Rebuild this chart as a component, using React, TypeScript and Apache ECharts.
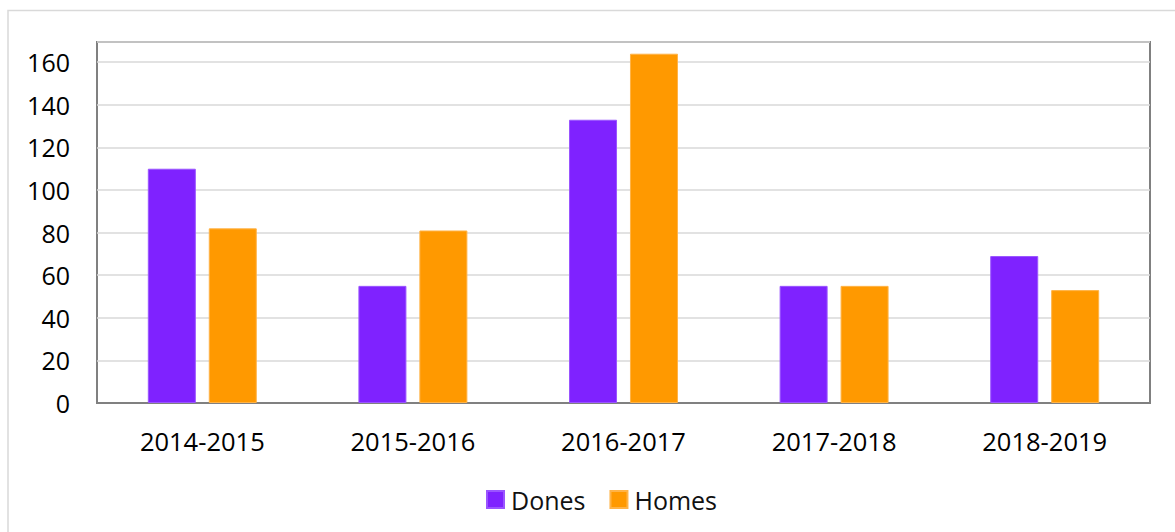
import React, { useEffect, useRef } from "react";
import * as echarts from "echarts";

const categories = ["2014-2015", "2015-2016", "2016-2017", "2017-2018", "2018-2019"];
const dones = [110, 55, 133, 55, 69];
const homes = [82, 81, 164, 55, 53];
const seriesNames = ["Dones", "Homes"];
const yMax = 169.5;
const yInterval = 20;

const FONT = "'Open Sans', 'Noto Sans', sans-serif";

export default function App() {
  const ref = useRef<HTMLDivElement>(null);
  useEffect(() => {
    if (!ref.current) return;
    const chart = echarts.init(ref.current, null, { renderer: "svg" });
    chart.setOption({
      animation: false,
      backgroundColor: "#ffffff",
      textStyle: { fontFamily: FONT },
      graphic: [
        {
          type: "rect",
          shape: { x: 8, y: 10.5, width: 1300, height: 700 },
          style: { fill: "none", stroke: "#d9d9d9", lineWidth: 1.5 },
          silent: true,
        },
      ],
      grid: {
        left: 97,
        top: 42,
        right: 25,
        bottom: 129,
        show: true,
        borderColor: "#808080",
        borderWidth: 2,
        containLabel: false,
      },
      legend: {
        data: seriesNames,
        left: 486,
        top: 487,
        padding: 0,
        icon: "rect",
        itemWidth: 17,
        itemHeight: 17,
        itemGap: 24,
        textStyle: { fontFamily: FONT, fontSize: 25, color: "#111", padding: [0, 0, 0, 2] },
      },
      xAxis: {
        type: "category",
        data: categories,
        axisTick: { show: false },
        axisLine: { show: true, lineStyle: { color: "#808080", width: 2 } },
        axisLabel: { fontFamily: FONT, fontSize: 25.5, color: "#000", margin: 25 },
      },
      yAxis: {
        type: "value",
        min: 0,
        max: yMax,
        interval: yInterval,
        axisLine: { show: false },
        axisTick: { show: false },
        splitLine: { show: true, lineStyle: { color: "#d9d9d9", width: 1.5 } },
        axisLabel: {
          fontFamily: FONT,
          fontSize: 25,
          color: "#000",
          margin: 27,
          formatter: (v: number) => (v % yInterval === 0 ? String(v) : ""),
        },
      },
      series: [
        {
          name: seriesNames[0],
          type: "bar",
          data: dones,
          barWidth: 48,
          barGap: "27%",
          itemStyle: { color: "#7f22ff", borderColor: "#9a55ff", borderWidth: 1 },
        },
        {
          name: seriesNames[1],
          type: "bar",
          data: homes,
          barWidth: 48,
          itemStyle: { color: "#ff9900", borderColor: "#ffb347", borderWidth: 1 },
        },
      ],
    });
    return () => chart.dispose();
  }, []);
  return (
    <div
      ref={ref}
      style={{ position: "absolute", left: 0, top: 0, width: 1175, height: 532, overflow: "hidden" }}
    />
  );
}
